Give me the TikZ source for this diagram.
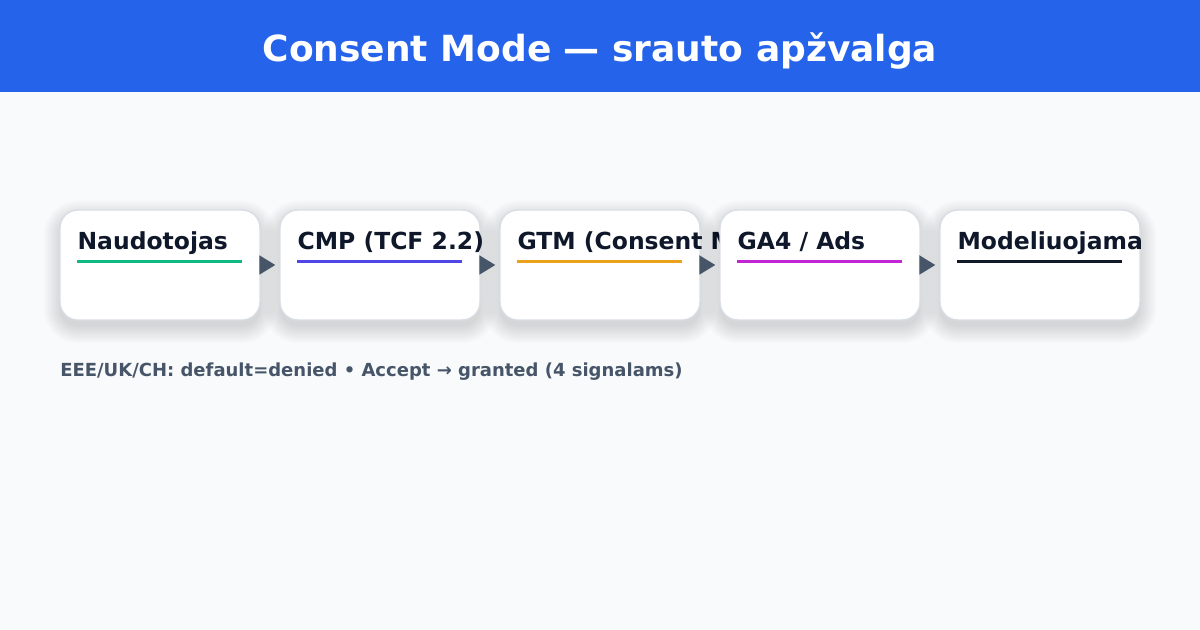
\documentclass[tikz,border=0pt]{standalone}
\usepackage{fontspec}
\setmainfont{DejaVu Sans}
\usetikzlibrary{arrows.meta, positioning}

\definecolor{pagebg}{HTML}{F8FAFC}
\definecolor{headbg}{HTML}{2563EB}
\definecolor{boxline}{HTML}{D9DEE5}
\definecolor{ink}{HTML}{0F172A}
\definecolor{slate}{HTML}{475569}
\definecolor{cgreen}{HTML}{10B981}
\definecolor{cindigo}{HTML}{4F46E5}
\definecolor{camber}{HTML}{EAA21A}
\definecolor{cmagenta}{HTML}{C026D3}
\definecolor{cdark}{HTML}{111827}

\begin{document}
\begin{tikzpicture} [x=0.75pt, y=-0.75pt, node distance=15pt,
    stepbox/.style = {draw=boxline, fill=white, line width=1pt, rounded corners=13.5pt,
        minimum width=150pt, minimum height=82.5pt, inner sep=0pt},
    glow/.style = {fill=black, opacity=0.016},
    steptitle/.style = {anchor=base west, inner sep=0pt, text=ink, font=\bfseries\fontsize{17.6}{21}\selectfont},
    flow/.style = {draw=slate, line width=2.25pt, -{Triangle[length=12pt, width=14pt]}, shorten >=3pt}]

\useasboundingbox (0,0) rectangle (1200,630);
\fill [pagebg] (0,0) rectangle (1200,630);
\fill [headbg] (0,0) rectangle (1200,92);

\node (title) [anchor=base, text=white, font=\bfseries\fontsize{27}{32}\selectfont] at (600,62)
    {Consent Mode — srauto apžvalga};

% the five steps, drawn in order so each one lies over the one before
\foreach \i/\name/\txt/\col in {0/user/Naudotojas/cgreen,
                                1/cmp/{CMP (TCF 2.2)}/cindigo,
                                2/gtm/{GTM (Consent Mode)}/camber,
                                3/ga/{GA4 / Ads}/cmagenta,
                                4/model/Modeliuojama/cdark} {
    \foreach \s in {0,2,...,16}
        \fill [glow, rounded corners=13.5pt+0.75pt*\s] (60+220*\i-\s, 217-\s) rectangle (260+220*\i+\s, 327+\s);
    \node (\name) [stepbox] at (160+220*\i, 265) {};
    \node (\name-t) [steptitle] at ([xshift=13.5pt, yshift=-30pt]\name.north west) {\txt};
    \draw [\col, line width=2.25pt] ([xshift=13.5pt, yshift=-39pt]\name.north west) -- ++(165,0);
}

\foreach \a/\b in {user/cmp, cmp/gtm, gtm/ga, ga/model}
    \draw [flow] (\a.east) -- (\b.west);

\node (note) [anchor=base west, inner sep=0pt, text=slate, font=\bfseries\fontsize{13.5}{16}\selectfont] at (60,377)
    {EEE/UK/CH: default=denied • Accept → granted (4 signalams)};

\end{tikzpicture}
\end{document}
